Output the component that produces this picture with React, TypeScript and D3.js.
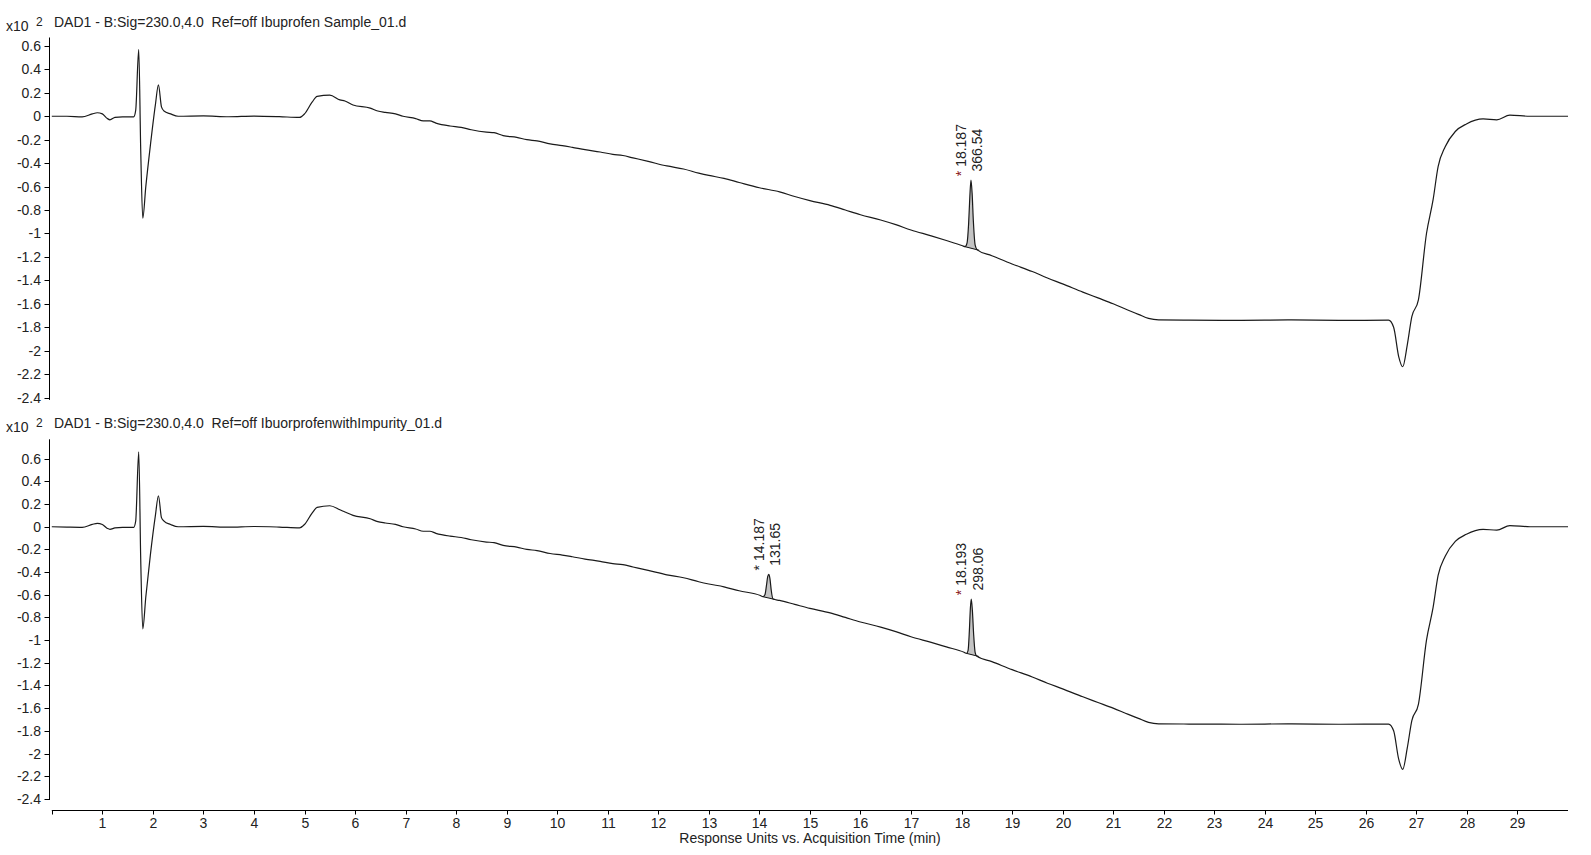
import React from "react";
import * as d3 from "d3";

// ---------- data ----------
const topTimes = [
  0, 0.3, 0.6, 0.8, 0.9, 1.0, 1.1, 1.15, 1.25, 1.4, 1.62, 1.66, 1.72, 1.76, 1.8, 1.86, 1.95, 2.05, 2.11, 2.17, 2.22, 2.35, 2.5,
  3.0, 3.5, 4.0, 4.5, 4.9, 5.0, 5.15, 5.25, 5.5, 5.7, 5.8, 5.96, 6.3, 6.45, 6.6, 6.8, 6.95, 7.2, 7.35, 7.48, 7.6, 7.88, 8.1, 8.3,
  8.6, 8.75, 8.93, 9.2, 9.4, 9.6, 9.86, 10.1, 10.3, 10.55, 10.85, 11.1, 11.3, 11.5, 11.8, 12.17, 12.5, 12.8, 13.0, 13.3, 13.6,
  14.0, 14.4, 14.7, 15.0, 15.4, 15.7, 16.0, 16.4, 16.7, 17.0, 17.4, 17.7, 18.02,
  18.07, 18.11, 18.14, 18.165, 18.187, 18.21, 18.235, 18.27, 18.31,
  18.6, 19.0, 19.4, 19.7, 20.0, 20.4, 20.7, 21.0, 21.3, 21.5, 21.7, 21.9, 22.5, 23.5, 24.5, 25.5, 26.45, 26.55, 26.65, 26.73,
  26.82, 26.91, 27.04, 27.2, 27.33, 27.43, 27.57, 27.77, 27.99, 28.32, 28.59, 28.85, 29.25, 30,
];
const topValues = [
  0, 0, -0.005, 0.02, 0.03, 0.02, -0.02, -0.03, -0.01, -0.005, -0.005, 0.05, 0.57, -0.3, -0.87, -0.6, -0.25, 0.1, 0.267, 0.08, 0.045, 0.02, 0.0,
  0.003, -0.004, 0.002, -0.003, -0.01, 0.02, 0.12, 0.17, 0.18, 0.14, 0.13, 0.096, 0.07, 0.045, 0.033, 0.02, 0.0, -0.02, -0.04, -0.04, -0.058, -0.083, -0.095, -0.115,
  -0.135, -0.14, -0.165, -0.18, -0.2, -0.21, -0.236, -0.25, -0.265, -0.285, -0.305, -0.325, -0.335, -0.355, -0.385, -0.424, -0.45, -0.485, -0.505, -0.53, -0.565,
  -0.61, -0.645, -0.685, -0.72, -0.76, -0.8, -0.84, -0.885, -0.925, -0.97, -1.02, -1.06, -1.105,
  -1.113, -1.08, -0.92, -0.68, -0.545, -0.66, -0.9, -1.1, -1.14,
  -1.19, -1.26, -1.325, -1.38, -1.43, -1.5, -1.55, -1.6, -1.655, -1.69, -1.725, -1.738, -1.74, -1.742, -1.738, -1.742, -1.74, -1.8, -2.05, -2.137,
  -1.95, -1.71, -1.567, -1.0, -0.714, -0.43, -0.26, -0.13, -0.066, -0.023, -0.03, 0.01, 0.0, 0.0,
];

const bottomTimes = [
  0, 0.3, 0.6, 0.8, 0.9, 1.0, 1.1, 1.15, 1.25, 1.4, 1.62, 1.66, 1.72, 1.76, 1.8, 1.86, 1.95, 2.05, 2.11, 2.17, 2.22, 2.35, 2.5,
  3.0, 3.5, 4.0, 4.5, 4.9, 5.0, 5.15, 5.25, 5.5, 5.7, 5.8, 5.96, 6.3, 6.45, 6.6, 6.8, 6.95, 7.2, 7.35, 7.48, 7.6, 7.88, 8.1, 8.3,
  8.6, 8.75, 8.93, 9.2, 9.4, 9.6, 9.86, 10.1, 10.3, 10.55, 10.85, 11.1, 11.3, 11.5, 11.8, 12.17, 12.5, 12.8, 13.0, 13.3, 13.6,
  14.02, 14.07, 14.11, 14.14, 14.165, 14.187, 14.21, 14.235, 14.27,
  14.4, 14.7, 15.0, 15.4, 15.7, 16.0, 16.4, 16.7, 17.0, 17.4, 17.7, 18.05,
  18.1, 18.13, 18.155, 18.175, 18.193, 18.215, 18.24, 18.27, 18.3,
  18.6, 19.0, 19.4, 19.7, 20.0, 20.4, 20.7, 21.0, 21.3, 21.5, 21.7, 21.9, 22.5, 23.5, 24.5, 25.5, 26.45, 26.55, 26.65, 26.73,
  26.82, 26.91, 27.04, 27.2, 27.33, 27.43, 27.57, 27.77, 27.99, 28.32, 28.59, 28.85, 29.25, 30,
];
const bottomValues = [
  0, -0.003, -0.005, 0.02, 0.03, 0.02, -0.015, -0.023, -0.01, -0.005, -0.005, 0.05, 0.66, -0.3, -0.9, -0.62, -0.25, 0.1, 0.273, 0.08, 0.05, 0.02, 0.0,
  0.003, -0.004, 0.002, -0.003, -0.01, 0.02, 0.12, 0.17, 0.185, 0.15, 0.13, 0.1, 0.07, 0.045, 0.033, 0.02, 0.0, -0.02, -0.04, -0.04, -0.058, -0.083, -0.095, -0.115,
  -0.135, -0.14, -0.165, -0.18, -0.2, -0.21, -0.236, -0.25, -0.265, -0.285, -0.305, -0.325, -0.335, -0.355, -0.385, -0.424, -0.45, -0.485, -0.505, -0.53, -0.565,
  -0.607, -0.617, -0.6, -0.52, -0.44, -0.42, -0.46, -0.56, -0.638,
  -0.65, -0.685, -0.72, -0.76, -0.8, -0.84, -0.885, -0.925, -0.97, -1.02, -1.06, -1.107,
  -1.117, -1.09, -0.92, -0.72, -0.638, -0.74, -0.95, -1.11, -1.14,
  -1.19, -1.26, -1.325, -1.38, -1.43, -1.5, -1.55, -1.6, -1.655, -1.69, -1.725, -1.738, -1.74, -1.742, -1.738, -1.742, -1.74, -1.8, -2.05, -2.14,
  -1.95, -1.71, -1.567, -1.0, -0.714, -0.43, -0.26, -0.13, -0.066, -0.023, -0.03, 0.01, 0.0, 0.0,
];

// peaks: apex time, label, area, integration start/end
const topPeakTimes = [18.187];
const topPeakLabels = ["18.187"];
const topPeakAreas = ["366.54"];
const topPeakStarts = [18.07];
const topPeakEnds = [18.31];

const bottomPeakTimes = [14.187, 18.193];
const bottomPeakLabels = ["14.187", "18.193"];
const bottomPeakAreas = ["131.65", "298.06"];
const bottomPeakStarts = [14.07, 18.1];
const bottomPeakEnds = [14.27, 18.3];

const topTitle = "DAD1 - B:Sig=230.0,4.0  Ref=off Ibuprofen Sample_01.d";
const bottomTitle = "DAD1 - B:Sig=230.0,4.0  Ref=off IbuorprofenwithImpurity_01.d";
const xTitle = "Response Units vs. Acquisition Time (min)";
const yTickSteps = d3.range(-12, 4); // x 0.2
const xTickValues = d3.range(0, 30);

// ---------- drawing ----------
const FONT = "'Liberation Sans', Arial, sans-serif";
const FS = 14;
const x = d3.scaleLinear().domain([0, 30]).range([51.8, 1568]);

type PanelProps = {
  times: number[];
  values: number[];
  y: d3.ScaleLinear<number, number>;
  title: string;
  peakTimes: number[];
  peakLabels: string[];
  peakAreas: string[];
  peakStarts: number[];
  peakEnds: number[];
};

function Panel(p: PanelProps) {
  const { times, values, y } = p;
  const pts = times.map((t, i) => [t, values[i]] as [number, number]);
  const line = d3
    .line<[number, number]>()
    .x((d) => x(d[0]))
    .y((d) => y(d[1]))
    .curve(d3.curveMonotoneX);
  const [y0, y1] = y.range();
  return (
    <g>
      {/* y axis */}
      <line x1={49.5} x2={49.5} y1={y1} y2={y0} stroke="#000" strokeWidth={1} />
      {yTickSteps.map((k) => {
        const v = k * 0.2;
        const yy = Math.round(y(v)) + 0.5;
        return (
          <g key={k}>
            <line x1={44.5} x2={49.5} y1={yy} y2={yy} stroke="#000" />
            <text x={41} y={yy} dy="0.35em" textAnchor="end" fontSize={FS} fontFamily={FONT} fill="#222">
              {String(Math.round(v * 10) / 10)}
            </text>
          </g>
        );
      })}
      <text x={6} y={y1 - 7} fontSize={FS} fontFamily={FONT} fill="#222">x10</text>
      <text x={36} y={y1 - 12} fontSize={12} fontFamily={FONT} fill="#222">2</text>
      <text x={54} y={y1 - 11} fontSize={FS} fontFamily={FONT} fill="#222" style={{ whiteSpace: "pre" }}>
        {p.title}
      </text>

      {/* peak fills */}
      {p.peakTimes.map((pt, i) => {
        const s = p.peakStarts[i];
        const e = p.peakEnds[i];
        const seg = pts.filter((d) => d[0] >= s - 1e-9 && d[0] <= e + 1e-9);
        const vs = seg[0][1];
        const ve = seg[seg.length - 1][1];
        const base = (t: number) => vs + ((ve - vs) * (t - s)) / (e - s);
        const area = d3
          .area<[number, number]>()
          .x((d) => x(d[0]))
          .y0((d) => y(base(d[0])))
          .y1((d) => y(d[1]))
          .curve(d3.curveMonotoneX);
        return (
          <g key={"f" + i}>
            <path d={area(seg) || ""} fill="#c4c4c4" stroke="none" />
            <line x1={x(s)} x2={x(e) + 2} y1={y(vs)} y2={y(ve) + 0.4} stroke="#111" strokeWidth={1} />
          </g>
        );
      })}

      <path d={line(pts) || ""} fill="none" stroke="#1a1a1a" strokeWidth={1.2} />

      {/* peak labels */}
      {p.peakTimes.map((pt, i) => {
        const idx = times.indexOf(pt);
        const ay = y(values[idx]);
        const ax = x(pt);
        const cy = ay - 30;
        return (
          <g key={"l" + i} fontSize={FS} fontFamily={FONT} fill="#222">
            <text transform={`translate(${ax - 5},${cy}) rotate(-90)`} textAnchor="middle">
              <tspan fill={pt > 18 ? "#8b1a1a" : "#222"}>*</tspan>
              {" " + p.peakLabels[i]}
            </text>
            <text transform={`translate(${ax + 11.5},${cy}) rotate(-90)`} textAnchor="middle">
              {p.peakAreas[i]}
            </text>
          </g>
        );
      })}
    </g>
  );
}

export default function App() {
  const yTop = d3.scaleLinear().domain([-2.42, 0.672]).range([399.9, 37.5]);
  const yBottom = d3.scaleLinear().domain([-2.41, 0.771]).range([800, 439.3]);
  const axisY = 810.5;
  return (
    <svg
      width={1591}
      height={855}
      style={{ position: "absolute", left: 0, top: 0, background: "#fff" }}
    >
      <rect width={1591} height={855} fill="#fff" />
      <Panel
        times={topTimes}
        values={topValues}
        y={yTop}
        title={topTitle}
        peakTimes={topPeakTimes}
        peakLabels={topPeakLabels}
        peakAreas={topPeakAreas}
        peakStarts={topPeakStarts}
        peakEnds={topPeakEnds}
      />
      <Panel
        times={bottomTimes}
        values={bottomValues}
        y={yBottom}
        title={bottomTitle}
        peakTimes={bottomPeakTimes}
        peakLabels={bottomPeakLabels}
        peakAreas={bottomPeakAreas}
        peakStarts={bottomPeakStarts}
        peakEnds={bottomPeakEnds}
      />
      {/* x axis */}
      <line x1={x(0)} x2={x(30)} y1={axisY} y2={axisY} stroke="#000" strokeWidth={1} />
      {xTickValues.map((t) => {
        const xx = Math.round(x(t)) + 0.5;
        return (
          <g key={t}>
            <line x1={xx} x2={xx} y1={axisY} y2={axisY + 4} stroke="#000" />
            {t > 0 && (
              <text x={xx} y={828} textAnchor="middle" fontSize={FS} fontFamily={FONT} fill="#222">
                {t}
              </text>
            )}
          </g>
        );
      })}
      <text x={810} y={843} textAnchor="middle" fontSize={FS} fontFamily={FONT} fill="#222">
        {xTitle}
      </text>
    </svg>
  );
}
